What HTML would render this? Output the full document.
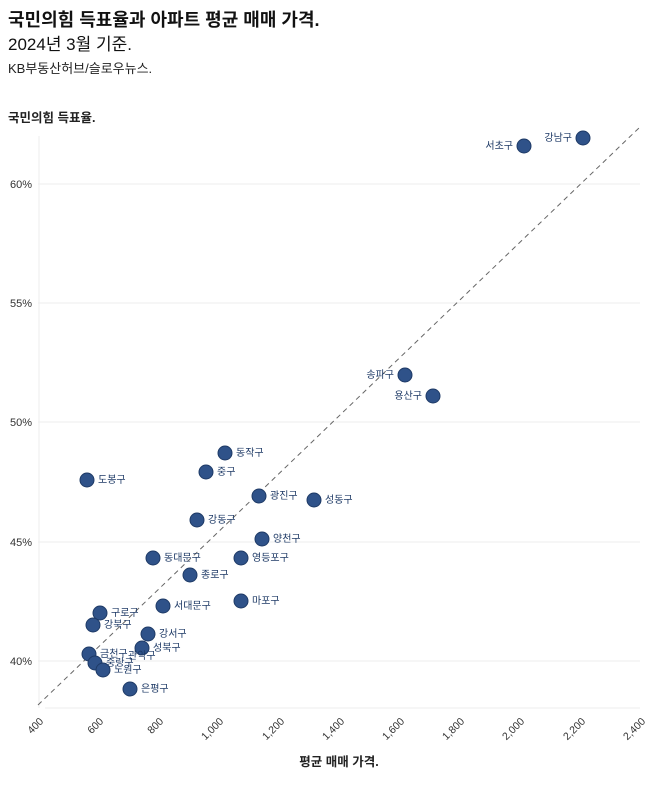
<!DOCTYPE html>
<html><head><meta charset="utf-8"><style>
body{margin:0;background:#fff;width:658px;height:787px;overflow:hidden;font-family:"Liberation Sans","Noto Sans CJK KR",sans-serif;}
</style></head><body>
<svg width="658" height="787" xmlns="http://www.w3.org/2000/svg" font-family="Liberation Sans, Noto Sans CJK KR, sans-serif">
<text x="8" y="26" font-size="18" font-weight="bold" fill="#111">국민의힘 득표율과 아파트 평균 매매 가격.</text>
<text x="8" y="50" font-size="17" fill="#111">2024년 3월 기준.</text>
<text x="8" y="73" font-size="13" fill="#222">KB부동산허브/슬로우뉴스.</text>
<text x="8" y="122" font-size="12.5" font-weight="bold" fill="#222">국민의힘 득표율.</text>
<g stroke="#eee" stroke-width="1">
<line x1="38" x2="640" y1="184" y2="184"/><line x1="38" x2="640" y1="303" y2="303"/>
<line x1="38" x2="640" y1="422" y2="422"/><line x1="38" x2="640" y1="542" y2="542"/>
<line x1="38" x2="640" y1="661" y2="661"/>
<line x1="39" x2="39" y1="136" y2="708"/><line x1="45" x2="640" y1="708" y2="708"/>
</g>
<g font-size="11" fill="#333" text-anchor="end">
<text x="32" y="188">60%</text><text x="32" y="307">55%</text><text x="32" y="426">50%</text><text x="32" y="546">45%</text><text x="32" y="665">40%</text>
</g>
<g font-size="10.5" fill="#333" text-anchor="end">
<text transform="translate(44,722) rotate(-45)">400</text>
<text transform="translate(104,722) rotate(-45)">600</text>
<text transform="translate(164,722) rotate(-45)">800</text>
<text transform="translate(224,722) rotate(-45)">1,000</text>
<text transform="translate(285,722) rotate(-45)">1,200</text>
<text transform="translate(345,722) rotate(-45)">1,400</text>
<text transform="translate(405,722) rotate(-45)">1,600</text>
<text transform="translate(465,722) rotate(-45)">1,800</text>
<text transform="translate(525,722) rotate(-45)">2,000</text>
<text transform="translate(586,722) rotate(-45)">2,200</text>
<text transform="translate(646,722) rotate(-45)">2,400</text>
</g>
<text x="339" y="766" font-size="12.5" font-weight="bold" fill="#222" text-anchor="middle">평균 매매 가격.</text>
<line x1="38" y1="705" x2="640" y2="127" stroke="#666" stroke-width="1" stroke-dasharray="5,4"/>
<g fill="#2f5289" stroke="#1e3a66" stroke-width="1">
<circle cx="583" cy="138" r="7"/><circle cx="524" cy="146" r="7"/><circle cx="405" cy="375" r="7"/><circle cx="433" cy="396" r="7"/>
<circle cx="225" cy="453" r="7"/><circle cx="206" cy="472" r="7"/><circle cx="87" cy="480" r="7"/><circle cx="259" cy="496" r="7"/>
<circle cx="314" cy="500" r="7"/><circle cx="197" cy="520" r="7"/><circle cx="262" cy="539" r="7"/><circle cx="153" cy="558" r="7"/>
<circle cx="241" cy="558" r="7"/><circle cx="190" cy="575" r="7"/><circle cx="163" cy="606" r="7"/><circle cx="241" cy="601" r="7"/>
<circle cx="100" cy="613" r="7"/><circle cx="93" cy="625" r="7"/><circle cx="148" cy="634" r="7"/><circle cx="142" cy="648" r="7"/>
<circle cx="89" cy="654" r="7"/><circle cx="95" cy="663" r="7"/><circle cx="103" cy="670" r="7"/><circle cx="130" cy="689" r="7"/>
</g>
<g font-size="10" fill="#1e3a66">
<text x="572" y="141" text-anchor="end">강남구</text><text x="513" y="149" text-anchor="end">서초구</text>
<text x="394" y="378" text-anchor="end">송파구</text><text x="422" y="399" text-anchor="end">용산구</text>
<text x="236" y="456">동작구</text><text x="217" y="475">중구</text><text x="98" y="483">도봉구</text>
<text x="270" y="499">광진구</text><text x="325" y="503">성동구</text><text x="208" y="523">강동구</text>
<text x="273" y="542">양천구</text><text x="164" y="561">동대문구</text><text x="252" y="561">영등포구</text>
<text x="201" y="578">종로구</text><text x="174" y="609">서대문구</text><text x="252" y="604">마포구</text>
<text x="111" y="616">구로구</text><text x="104" y="628">강북구</text><text x="159" y="637">강서구</text>
<text x="153" y="651">성북구</text><text x="128" y="659">관악구</text><text x="100" y="657">금천구</text>
<text x="106" y="666">중랑구</text><text x="114" y="673">노원구</text><text x="141" y="692">은평구</text>
</g>
</svg>
</body></html>
